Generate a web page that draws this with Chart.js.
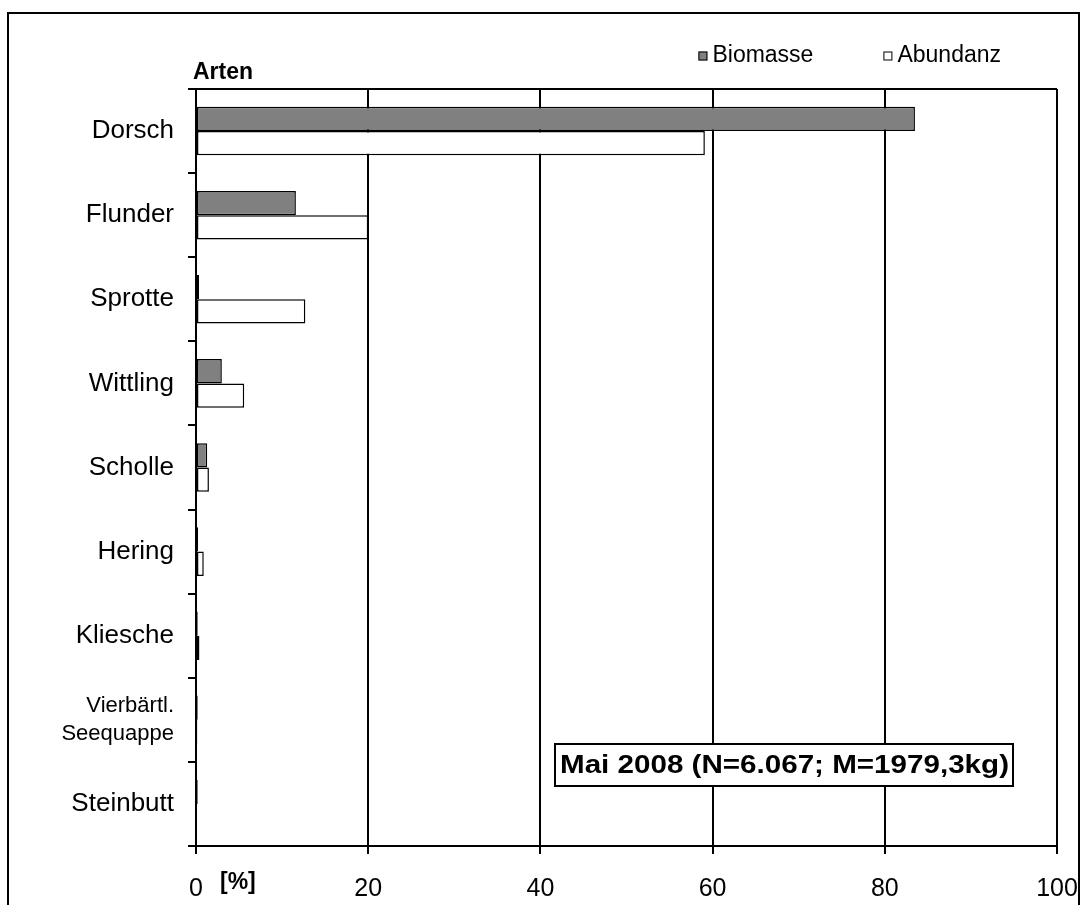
<!DOCTYPE html>
<html>
<head>
<meta charset="utf-8">
<script src="https://cdn.jsdelivr.net/npm/chart.js@4/dist/chart.umd.min.js"></script>
<style>
  html, body { margin: 0; padding: 0; background: #fff; overflow: hidden; }
  #wrap { position: relative; width: 1084px; height: 905px; }
  #frame { position: absolute; left: 7px; top: 12px; width: 1073px; height: 1000px; border: 2px solid #000; box-sizing: border-box; }
  #c { position: absolute; left: 0; top: 0; }
</style>
</head>
<body>
<div id="wrap">
  <div id="frame"></div>
  <canvas id="c" width="1084" height="905"></canvas>
</div>
<script>
// Fish species of the catch, share of total in percent
const arten = ['Dorsch', 'Flunder', 'Sprotte', 'Wittling', 'Scholle', 'Hering', 'Kliesche', ['Vierbärtl.', 'Seequappe'], 'Steinbutt'];
const biomasse = [83.5, 11.6, 0.35, 3.0, 1.3, 0.25, 0.2, 0.2, 0.2];
const abundanz = [59.1, 20.0, 12.7, 5.6, 1.5, 0.9, 0.4, 0.15, 0.1];
const xTicks = [0, 20, 40, 60, 80, 100];
const infoText = 'Mai 2008 (N=6.067; M=1979,3kg)';
const yTitle = 'Arten';
const xUnit = '[%]';

const FONT = "'Liberation Sans', Arial, sans-serif";

// Extra drawing: frame line on top of the plot, legend, axis captions and the info box
const decorations = {
  id: 'decorations',
  afterDraw(chart) {
    const { ctx, chartArea: a } = chart;
    ctx.save();
    // top border of the plot area
    ctx.strokeStyle = '#000';
    ctx.lineWidth = 2;
    ctx.beginPath();
    ctx.moveTo(a.left, a.top);
    ctx.lineTo(a.right, a.top);
    ctx.stroke();

    // axis captions
    ctx.fillStyle = '#000';
    ctx.font = 'bold 23px ' + FONT;
    ctx.textAlign = 'left';
    ctx.textBaseline = 'alphabetic';
    ctx.fillText(yTitle, a.left - 3, a.top - 10);
    ctx.font = 'bold 23px ' + FONT;
    ctx.textBaseline = 'middle';
    ctx.fillText(xUnit, a.left + 24, a.bottom + 37);

    // legend
    ctx.font = '23px ' + FONT;
    ctx.textBaseline = 'middle';
    const ds = chart.data.datasets;
    const box = 9, gapBox = 5, gapItem = 70;
    let widths = ds.map(d => box + gapBox + ctx.measureText(d.label).width);
    let total = widths.reduce((s, w) => s + w, 0) + gapItem * (ds.length - 1);
    let x = a.right - 56 - total;
    const ly = a.top - 33;
    ds.forEach((d, i) => {
      ctx.fillStyle = d.backgroundColor;
      ctx.fillRect(x, ly - box / 2, box, box);
      ctx.strokeStyle = '#000';
      ctx.lineWidth = 1;
      ctx.strokeRect(x + 0.5, ly - box / 2 + 0.5, box - 1, box - 1);
      ctx.fillStyle = '#000';
      ctx.fillText(d.label, x + box + gapBox, ly);
      x += widths[i] + gapItem;
    });

    // info box
    const bx1 = 555, bx2 = a.right - 44, by2 = a.bottom - 60, by1 = by2 - 42;
    ctx.fillStyle = '#fff';
    ctx.fillRect(bx1, by1, bx2 - bx1, by2 - by1);
    ctx.strokeStyle = '#000';
    ctx.lineWidth = 2;
    ctx.strokeRect(bx1, by1, bx2 - bx1, by2 - by1);
    ctx.font = 'bold 25px ' + FONT;
    ctx.fillStyle = '#000';
    ctx.textAlign = 'left';
    ctx.textBaseline = 'middle';
    const tw = ctx.measureText(infoText).width;
    const target = bx2 - bx1 - 9;
    ctx.save();
    ctx.translate(bx1 + 5, (by1 + by2) / 2 + 1);
    ctx.scale(target / tw, 1);
    ctx.fillText(infoText, 0, 0);
    ctx.restore();
    ctx.restore();
  }
};

new Chart(document.getElementById('c'), {
  type: 'bar',
  data: {
    labels: arten,
    datasets: [
      { label: 'Biomasse', data: biomasse, backgroundColor: '#808080', borderColor: '#000', borderWidth: 1.5, borderSkipped: false },
      { label: 'Abundanz', data: abundanz, backgroundColor: '#ffffff', borderColor: '#000', borderWidth: 1.5, borderSkipped: false }
    ]
  },
  options: {
    indexAxis: 'y',
    responsive: false,
    animation: false,
    devicePixelRatio: 1,
    categoryPercentage: 0.577,
    barPercentage: 1,
    layout: { padding: { top: 89, right: 27, left: 0, bottom: 0 } },
    plugins: { legend: { display: false }, tooltip: { enabled: false }, title: { display: false } },
    scales: {
      x: {
        min: 0, max: 100,
        afterBuildTicks(scale) { scale.ticks = xTicks.map(v => ({ value: v })); },
        afterFit(scale) { scale.height = 59; scale.paddingLeft = 0; scale.paddingRight = 0; },
        ticks: { color: '#000', font: { family: FONT, size: 25 }, padding: 20, maxRotation: 0 },
        grid: { color: '#000', lineWidth: 2, drawTicks: true, tickLength: 8, tickColor: '#000' },
        border: { display: true, color: '#000', width: 2 }
      },
      y: {
        afterFit(scale) { scale.width = 196; scale.paddingTop = 0; scale.paddingBottom = 0; },
        ticks: {
          color: '#000',
          // the two-line species name is set a bit smaller
          font: (c) => Array.isArray(arten[c.index])
            ? { family: FONT, size: 22, lineHeight: 1.3 }
            : { family: FONT, size: 26 },
          padding: 14
        },
        grid: { offset: true, drawOnChartArea: false, drawTicks: true, tickLength: 8, color: '#000', lineWidth: 2 },
        border: { display: true, color: '#000', width: 2 }
      }
    }
  },
  plugins: [decorations]
});
</script>
</body>
</html>
